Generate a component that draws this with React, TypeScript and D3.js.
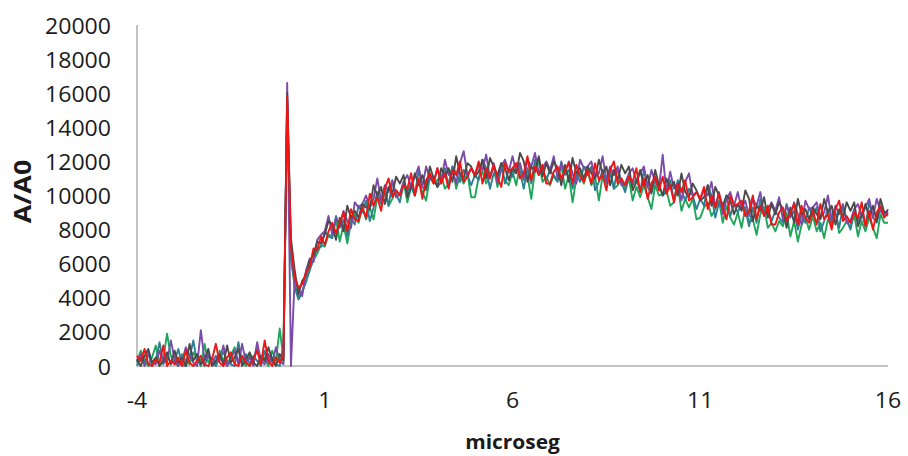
import React from "react";
import * as d3 from "d3";

const X_TICKS = [-4, 1, 6, 11, 16];
const Y_TICKS = [0, 2000, 4000, 6000, 8000, 10000, 12000, 14000, 16000, 18000, 20000];
const T_START = -4;
const T_STEP = 0.1;
const X_LABEL = "microseg";
const Y_LABEL = "A/A0";

const GREEN = [
  200, 900, 300, 0, 500, 1200, 100, 400, 1900, 600,
  200, 0, 700, 300, 100, 800, 400, 0, 1300, 200,
  500, 100, 900, 300, 0, 600, 1100, 200, 400, 0,
  700, 300, 1200, 100, 500, 0, 900, 300, 2200, 400,
  15500, 6200, 4800, 4000, 4400, 4900, 5700, 6200, 6600, 7100,
  7000, 7700, 7600, 8600, 7300, 8300, 7200, 8400, 8900, 8400,
  9300, 8600, 9300, 8600, 9900, 9600, 10500, 9400, 9800, 10300,
  10000, 10800, 9600, 10500, 10000, 10900, 10200, 9700, 11100, 10700,
  10900, 11200, 10400, 10700, 11700, 10400, 11200, 10700, 11300, 9900,
  9900, 11100, 11400, 10700, 11200, 11700, 10500, 11600, 10900, 10600,
  11400, 10600, 11800, 10900, 11200, 9800, 11500, 12000, 10800, 11100,
  10600, 11200, 10900, 11800, 10400, 11200, 9600, 11000, 11400, 10700,
  11500, 10600, 11100, 9700, 11200, 10800, 11600, 10400, 10600, 11000,
  10300, 11000, 9700, 10500, 9900, 10600, 9900, 9200, 10600, 10000,
  10100, 10300, 9400, 9600, 10600, 9100, 9800, 9300, 9800, 8600,
  8700, 9300, 9600, 8800, 9200, 9700, 8400, 9400, 8700, 8300,
  9000, 8100, 9300, 8400, 8600, 7700, 8900, 9300, 8100, 8400,
  7900, 8500, 8200, 9000, 7600, 8500, 7300, 8300, 8700, 8000,
  8800, 7900, 8400, 7500, 8600, 8200, 9000, 7800, 8100, 8500,
  8100, 8900, 7600, 8500, 7900, 8700, 8100, 7500, 8900, 8400,
  8400,
];

const TEAL = [
  0, 500, 200, 700, 0, 300, 1400, 100, 600, 200,
  300, 1000, 100, 0, 500, 1500, 200, 400, 0, 600,
  200, 0, 500, 800, 300, 100, 0, 1400, 200, 700,
  100, 600, 300, 0, 900, 200, 500, 100, 0, 1200,
  15200, 6600, 4600, 3900, 4300, 5000, 5600, 6300, 6900, 7000,
  7900, 7600, 7500, 8800, 8100, 8600, 7600, 8700, 8300, 9400,
  9000, 9700, 8500, 9300, 10200, 9500, 10200, 9400, 10800, 10100,
  9600, 10700, 10200, 10700, 10000, 11500, 10500, 10300, 11200, 11000,
  10500, 10800, 11600, 10500, 11700, 11300, 10800, 11500, 11200, 10600,
  11200, 10900, 12100, 11600, 10400, 11300, 11000, 11900, 10700, 11500,
  11100, 11800, 11400, 10400, 11600, 10700, 12100, 11200, 11500, 10900,
  11500, 11100, 10800, 12000, 11200, 11500, 10400, 11300, 10800, 11700,
  11200, 11700, 10300, 10800, 11500, 10700, 11300, 10400, 11600, 10800,
  10200, 11200, 10600, 11000, 10200, 11500, 10500, 10100, 11000, 10600,
  10000, 10200, 10900, 9700, 10900, 10300, 9700, 10400, 10000, 9200,
  9800, 9400, 10600, 10000, 8700, 9600, 9200, 10000, 8800, 9500,
  9000, 9600, 9200, 8200, 9300, 8400, 9800, 8800, 9100, 8500,
  9100, 8700, 8400, 9500, 8700, 9100, 8000, 8900, 8400, 9300,
  8800, 9300, 7900, 8500, 9200, 8400, 9000, 8100, 9400, 8600,
  8000, 9100, 8500, 9000, 8200, 9600, 8700, 8400, 9300, 9000,
  8800,
];

const PURPLE = [
  300, 700, 0, 800, 200, 100, 900, 300, 200, 1500,
  400, 0, 300, 1100, 600, 200, 0, 2100, 300, 700,
  100, 600, 300, 1200, 0, 400, 900, 100, 1300, 200,
  500, 0, 1400, 300, 100, 700, 200, 1100, 300, 100,
  16600, 0, 5200, 4500, 4100, 5600, 6300, 6100, 7400, 7700,
  7900, 8800, 7700, 8700, 8200, 9100, 8500, 8100, 9600, 9300,
  9500, 10000, 9300, 9800, 11000, 9700, 10600, 10200, 10900, 9900,
  10100, 10800, 11200, 10500, 11100, 11700, 10500, 11700, 11000, 10800,
  11600, 10800, 12100, 11200, 11500, 10700, 11900, 12600, 11200, 11600,
  11200, 11800, 11500, 12400, 11000, 11900, 10700, 11700, 12100, 11400,
  12300, 11400, 11900, 11000, 12100, 11700, 12500, 11300, 11600, 12000,
  11500, 12300, 11000, 11900, 11300, 12000, 11300, 10700, 12100, 11600,
  11700, 12000, 11100, 11300, 12300, 10900, 11700, 11200, 11700, 10600,
  10700, 11300, 11600, 10800, 11300, 11700, 10500, 11500, 10800, 10400,
  12400, 10200, 11400, 10400, 10700, 9700, 10800, 11300, 10000, 10200,
  9800, 10300, 10000, 10800, 9300, 10200, 8900, 9800, 10200, 9400,
  10200, 9200, 9700, 8800, 9800, 9400, 10200, 8900, 9200, 9600,
  9100, 9900, 8600, 9400, 8800, 9600, 8900, 8300, 9700, 9200,
  9300, 9600, 8700, 9000, 10000, 8600, 9400, 8900, 9500, 8400,
  8500, 9200, 9500, 8800, 9300, 9800, 8700, 9800, 9100, 8800,
  9200,
];

const GREY = [
  400, 0, 600, 1000, 200, 500, 0, 300, 800, 100,
  900, 200, 500, 0, 1300, 300, 700, 100, 400, 1000,
  0, 300, 700, 100, 1200, 200, 500, 1000, 0, 400,
  800, 200, 0, 600, 300, 1100, 400, 0, 700, 300,
  16000, 7500, 5600, 4200, 5000, 5300, 6200, 6500, 7300, 7200,
  7700, 8500, 8300, 7400, 8700, 7900, 9400, 8700, 9100, 8700,
  9500, 9300, 9200, 10600, 10000, 10500, 9500, 10500, 10100, 11100,
  10700, 11200, 9900, 10500, 11300, 10600, 11200, 10400, 11700, 11000,
  10500, 11600, 11100, 11600, 10800, 12300, 11300, 11000, 11900, 11700,
  11100, 11400, 12100, 11000, 12200, 11700, 11200, 11900, 11600, 10900,
  11600, 11300, 12500, 12000, 10800, 11700, 11400, 12300, 11100, 11900,
  11300, 12000, 11600, 10600, 11800, 10800, 12200, 11300, 11600, 11000,
  11700, 11300, 11000, 12100, 11300, 11700, 10600, 11500, 10900, 11800,
  11300, 11700, 10300, 10800, 11500, 10600, 11200, 10200, 11500, 10600,
  10000, 11000, 10400, 10800, 10000, 11300, 10200, 9900, 10700, 10300,
  9700, 9900, 10600, 9400, 10500, 10000, 9400, 10000, 9700, 8900,
  9500, 9100, 10300, 9800, 8500, 9400, 9100, 9900, 8700, 9500,
  8900, 9600, 9200, 8100, 9300, 8400, 9800, 8900, 9200, 8600,
  9300, 8900, 8600, 9800, 9000, 9400, 8300, 9200, 8700, 9600,
  9100, 9600, 8200, 8800, 9500, 8700, 9400, 8500, 9800, 9000,
  9100,
];

const RED = [
  600, 300, 1000, 100, 0, 400, 200, 1200, 0, 300,
  100, 500, 0, 900, 200, 0, 300, 600, 100, 0,
  400, 1300, 200, 0, 500, 800, 100, 0, 600, 200,
  0, 400, 900, 100, 1500, 300, 0, 500, 200, 600,
  15800, 7000, 5200, 4600, 4800, 5500, 5800, 6900, 6800, 7600,
  7100, 7900, 8400, 7800, 8400, 9000, 7900, 9200, 8600, 8500,
  9300, 8700, 10100, 9400, 9900, 9100, 10400, 11000, 9900, 10300,
  10000, 10600, 10400, 11300, 10000, 11000, 9800, 10900, 11300, 10700,
  11600, 10700, 11300, 10400, 11500, 11200, 12000, 10800, 11100, 11600,
  11200, 12000, 10700, 11600, 11000, 11800, 11100, 10500, 11900, 11400,
  11600, 11900, 11000, 11300, 12300, 10900, 11700, 11200, 11800, 10700,
  10700, 11400, 11700, 11000, 11500, 11900, 10700, 11800, 11100, 10800,
  11500, 10700, 11900, 10900, 11200, 10300, 11500, 12000, 10700, 11000,
  10600, 11100, 10800, 11600, 10200, 11000, 9800, 10700, 11100, 10300,
  11100, 10100, 10600, 9600, 10700, 10200, 10900, 9700, 9900, 10200,
  9800, 10500, 9200, 10000, 9300, 10100, 9300, 8600, 10000, 9400,
  9500, 9700, 8800, 9100, 10000, 8600, 9400, 8800, 9400, 8300,
  8300, 9000, 9300, 8500, 9000, 9500, 8300, 9400, 8700, 8400,
  9100, 8300, 9500, 8600, 8900, 8000, 9200, 9700, 8500, 8800,
  8400, 9000, 8700, 9600, 8200, 9100, 8000, 9000, 9400, 8700,
  9000,
];

const SERIES = [
  { name: "green", values: GREEN, color: "#1fa65a" },
  { name: "teal", values: TEAL, color: "#2f7f93" },
  { name: "purple", values: PURPLE, color: "#7a4ba8" },
  { name: "grey", values: GREY, color: "#4a4a4a" },
  { name: "red", values: RED, color: "#ee1515" },
];

const W = 908;
const H = 456;
const FONT = "'Open Sans', 'Liberation Sans', sans-serif";
const SX = 1.1;

export default function App() {
  const x = d3.scaleLinear().domain([-4, 16]).range([137, 888]);
  const y = d3.scaleLinear().domain([0, 20000]).range([366, 25]);
  const line = d3
    .line<number>()
    .x((_, i) => x(T_START + i * T_STEP))
    .y((d) => y(d));

  return (
    <svg
      width={W}
      height={H}
      style={{ position: "absolute", left: 0, top: 0, background: "#fff" }}
    >
      <rect x={0} y={0} width={W} height={H} fill="#fff" />
      <line x1={x(-4)} x2={x(-4)} y1={y(20000)} y2={y(0)} stroke="#868686" strokeWidth={1} />
      <line x1={x(-4)} x2={x(16)} y1={y(0)} y2={y(0)} stroke="#868686" strokeWidth={1} />
      <g>
        {SERIES.map((s) => (
          <path
            key={s.name}
            d={line(s.values) || ""}
            fill="none"
            stroke={s.color}
            strokeWidth={1.9}
            strokeLinejoin="round"
          />
        ))}
      </g>
      {Y_TICKS.map((t) => (
        <text
          key={"y" + t}
          transform={`translate(111,${y(t)}) scale(${SX},1)`}
          textAnchor="end"
          dominantBaseline="central"
          fontFamily={FONT}
          fontSize={21}
          fill="#1a1a1a"
        >
          {t}
        </text>
      ))}
      {X_TICKS.map((t) => (
        <text
          key={"x" + t}
          transform={`translate(${x(t)},408) scale(${SX},1)`}
          textAnchor="middle"
          fontFamily={FONT}
          fontSize={21}
          fill="#1a1a1a"
        >
          {t}
        </text>
      ))}
      <text
        transform={`translate(${(x(-4) + x(16)) / 2},449) scale(${SX},1)`}
        textAnchor="middle"
        fontFamily={FONT}
        fontSize={19}
        fontWeight="bold"
        fill="#1a1a1a"
      >
        {X_LABEL}
      </text>
      <text
        transform={`translate(31,${(y(0) + y(20000)) / 2 - 4}) rotate(-90) scale(1.12,1)`}
        textAnchor="middle"
        fontFamily={FONT}
        fontSize={24}
        fontWeight="bold"
        fill="#1a1a1a"
      >
        {Y_LABEL}
      </text>
    </svg>
  );
}
